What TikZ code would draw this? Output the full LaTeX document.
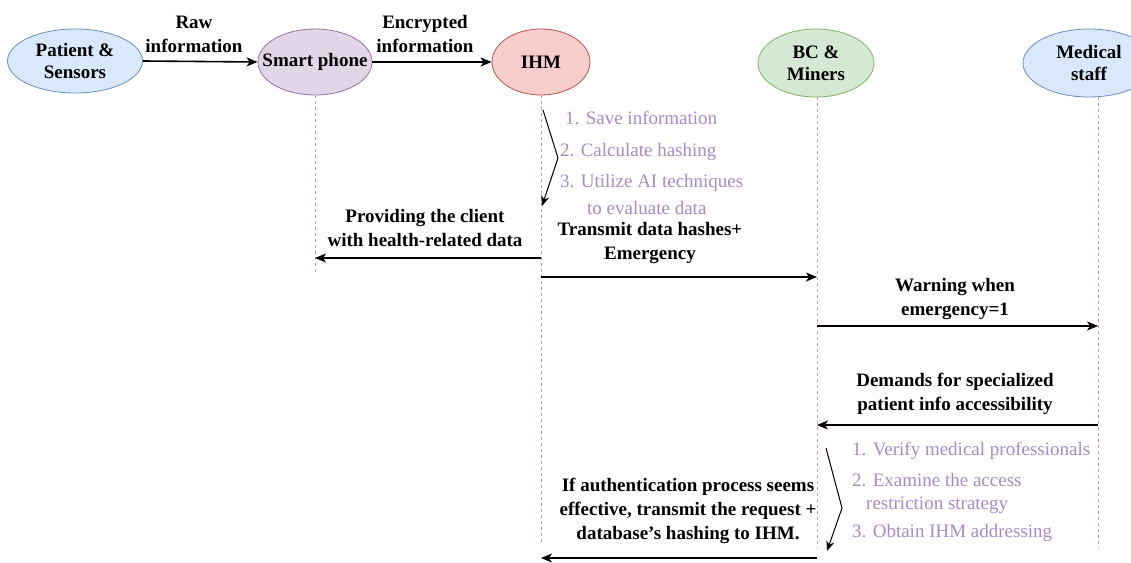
\documentclass[tikz,border=0pt]{standalone}
\usepackage{fontspec}
\setmainfont{Liberation Serif}
\usetikzlibrary{shapes.geometric,arrows.meta}
\definecolor{blueF}{HTML}{DAE8FC}\definecolor{blueD}{HTML}{6C8EBF}
\definecolor{purpF}{HTML}{E1D5E7}\definecolor{purpD}{HTML}{9673A6}
\definecolor{redF}{HTML}{F8CECC}\definecolor{redD}{HTML}{B85450}
\definecolor{greenF}{HTML}{D5E8D4}\definecolor{greenD}{HTML}{82B366}
\definecolor{lifec}{RGB}{205,150,172}
\definecolor{stepc}{RGB}{168,138,196}
\begin{document}
\begin{tikzpicture}[x=1pt,y=-1pt,
  actor/.style={ellipse, draw, line width=0.8pt, inner sep=0pt},
  actortext/.style={font=\fontsize{19}{22}\selectfont\bfseries, align=center, inner sep=0pt},
  life/.style={draw=lifec, dash pattern=on 3pt off 3pt, line width=0.9pt},
  msg/.style={-{Stealth[length=11pt,width=9pt,inset=3pt]}, line width=1.6pt},
  note/.style={-{Stealth[length=10pt,width=8pt,inset=3pt]}, line width=1pt},
  lbl/.style={font=\fontsize{19}{24}\selectfont\bfseries, align=center, inner sep=0pt},
  stepline/.style={font=\fontsize{19}{24}\selectfont, text=stepc, inner sep=0pt, anchor=west}]

\useasboundingbox (0,0) rectangle (1131,562);

% participants: fixed-size ellipses with their names set on top
\node[actor, fill=blueF,  draw=blueD,  minimum width=135pt, minimum height=64pt] (pat) at (75,61) {};
\node[actor, fill=purpF,  draw=purpD,  minimum width=114pt, minimum height=66pt] (sp)  at (315,62) {};
\node[actor, fill=redF,   draw=redD,   minimum width=98pt,  minimum height=66pt] (ihm) at (541,62) {};
\node[actor, fill=greenF, draw=greenD, minimum width=116pt, minimum height=68pt] (bc)  at (816,63) {};
\node[actor, fill=blueF,  draw=blueD,  minimum width=132pt, minimum height=68pt] (med) at (1089,63) {};
\node[actortext] (patT) at (pat.center) {Patient \&\\Sensors};
\node[actortext] (spT)  at (sp.center)  {Smart phone};
\node[actortext] (ihmT) at (ihm.center) {IHM};
\node[actortext] (bcT)  at (bc.center)  {BC \&\\Miners};
\node[actortext] (medT) at (med.center) {Medical\\staff};

% lifelines
\coordinate (spEnd)  at (315,275);
\coordinate (ihmEnd) at (541,545);
\coordinate (bcEnd)  at (817,548);
\coordinate (medEnd) at (1098,548);
\draw[life] (sp.south) -- (spEnd);
\draw[life] (ihm.south) -- (ihmEnd);
\draw[life] (bc.south -| bcEnd) -- (bcEnd);
\draw[life] (med.south -| medEnd) -- (medEnd);

% top row transfers
\draw[msg] (pat.east) -- (sp.west);
\draw[msg] (sp.east) -- (ihm.west);
\node[lbl] (lRaw) at (194,34) {Raw\\information};
\node[lbl] (lEnc) at (425,34) {Encrypted\\information};

% IHM processing
\coordinate (a1) at (543,110);
\coordinate (a2) at (558,158);
\coordinate (a3) at (542,206);
\draw[note] (a1) -- (a2) -- (a3);
\node[stepline] (s1) at (565,118) {1. Save information};
\node[stepline] (s2) at (560,152) {2. Calculate hashing};
\node[stepline] (s3) at (560,183) {3. Utilize AI techniques};
\node[stepline] (s4) at (587,208) {to evaluate data};

% IHM -> smart phone
\coordinate (m1a) at (541,258);
\coordinate (m1b) at (315,258);
\draw[msg] (m1a) -- (m1b);
\node[lbl] (lProv) at (425,228) {Providing the client\\with health-related data};

% IHM -> BC
\coordinate (m2a) at (541,277);
\coordinate (m2b) at (817,277);
\draw[msg] (m2a) -- (m2b);
\node[lbl] (lTx) at (650,243) {Transmit data hashes+\\Emergency};

% BC -> medical staff
\coordinate (m3a) at (817,326);
\coordinate (m3b) at (1098,326);
\draw[msg] (m3a) -- (m3b);
\node[lbl] (lWarn) at (955,299) {Warning when\\emergency=1};

% medical staff -> BC
\coordinate (m4a) at (1098,425);
\coordinate (m4b) at (817,425);
\draw[msg] (m4a) -- (m4b);
\node[lbl] (lDem) at (955,394) {Demands for specialized\\patient info accessibility};

% BC processing
\coordinate (b1) at (826,448);
\coordinate (b2) at (842,508);
\coordinate (b3) at (827,551);
\draw[note] (b1) -- (b2) -- (b3);
\node[stepline] (t1) at (852,451) {1. Verify medical professionals};
\node[stepline] (t2) at (852,480) {2. Examine the access};
\node[stepline] (t3) at (866,505) {restriction strategy};
\node[stepline] (t4) at (852,533) {3. Obtain IHM addressing};

% BC -> IHM
\coordinate (m5a) at (817,558);
\coordinate (m5b) at (541,558);
\draw[msg] (m5a) -- (m5b);
\node[lbl] (lAuth) at (688,511) {If authentication process seems\\effective, transmit the request +\\database's hashing to IHM.};

\end{tikzpicture}
\end{document}
